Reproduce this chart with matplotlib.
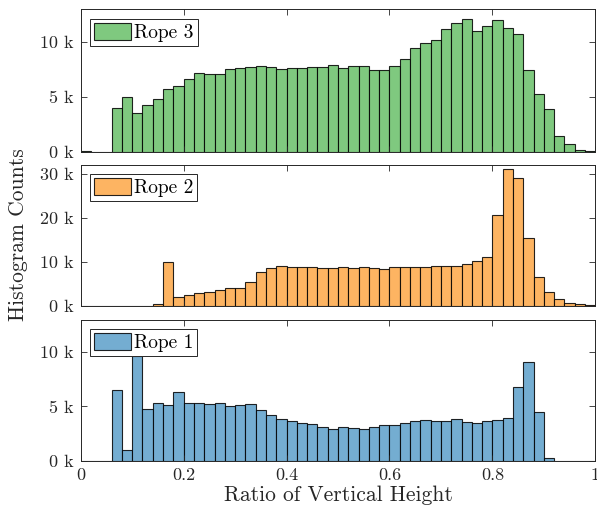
import matplotlib
matplotlib.use("Agg")
import matplotlib.pyplot as plt
import numpy as np

plt.rcParams["font.family"] = "serif"
plt.rcParams["font.serif"] = ["cmr10", "DejaVu Serif"]
plt.rcParams["axes.formatter.use_mathtext"] = True

# bin edges 0..1, width 0.02
bin_edges = [round(i * 0.02, 2) for i in range(51)]

rope3 = [100, 0, 0, 3950, 4950, 3580, 4220, 4770, 5720, 5960,
         6600, 7220, 7120, 7120, 7550, 7650, 7700, 7830, 7740, 7550,
         7620, 7650, 7700, 7770, 7920, 7650, 7800, 7800, 7460, 7490,
         7830, 8500, 9450, 9880, 10210, 11160, 11740, 12110, 11040, 11500,
         12050, 11250, 10770, 7460, 5260, 3880, 1410, 730, 180, 40]

rope2 = [0, 0, 0, 0, 0, 0, 0, 300, 9960, 1890,
         2490, 2870, 3020, 3620, 3920, 4080, 5280, 7700, 8600, 8900,
         8750, 8750, 8750, 8600, 8530, 8680, 8450, 8750, 8450, 8300,
         8680, 8680, 8750, 8750, 8900, 8900, 9060, 9360, 10190, 11090,
         20680, 31020, 28980, 15470, 6490, 3170, 1430, 600, 300, 150]

rope1 = [0, 0, 0, 6540, 980, 9650, 4800, 5350, 5170, 6360,
         5290, 5350, 5230, 5350, 5080, 5140, 5200, 4710, 4250, 3880,
         3700, 3490, 3430, 3150, 2970, 3150, 3060, 2970, 3150, 3300,
         3270, 3460, 3640, 3760, 3700, 3700, 3850, 3610, 3520, 3670,
         3790, 3980, 6790, 9110, 4500, 250, 0, 0, 0, 0]

panels = [
    ("Rope 3", rope3, "#7fc97f", 13000, [0, 5000, 10000], ["0 k", "5 k", "10 k"]),
    ("Rope 2", rope2, "#fdb462", 32000, [0, 10000, 20000, 30000], ["0 k", "10 k", "20 k", "30 k"]),
    ("Rope 1", rope1, "#74add1", 13000, [0, 5000, 10000], ["0 k", "5 k", "10 k"]),
]

x_ticks = [0, 0.2, 0.4, 0.6, 0.8, 1]
x_labels = ["0", "0.2", "0.4", "0.6", "0.8", "1"]

fig = plt.figure(figsize=(5.97, 5.15), dpi=100)
axes_rects = [
    [0.1352, 0.7054, 0.862, 0.2765],
    [0.1352, 0.4064, 0.862, 0.2738],
    [0.1352, 0.1054, 0.862, 0.2738],
]
frame_col = "#262626"

for rect, (name, counts, color, ymax, yt, ytl) in zip(axes_rects, panels):
    ax = fig.add_axes(rect)
    edges = np.array(bin_edges)
    ax.bar(edges[:-1], counts, width=np.diff(edges), align="edge",
           color=color, edgecolor=(0, 0, 0, 0.85), linewidth=0.8, label=name)
    ax.set_xlim(0, 1)
    ax.set_ylim(0, ymax)
    ax.set_yticks(yt)
    ax.set_yticklabels(ytl)
    ax.set_xticks(x_ticks)
    if name == "Rope 1":
        ax.set_xticklabels(x_labels)
        ax.set_xlabel("Ratio of Vertical Height", fontsize=15.5, color=frame_col, labelpad=2)
    else:
        ax.set_xticklabels([])
    ax.tick_params(direction="in", top=True, right=True, length=4, width=0.6,
                   color=frame_col, labelsize=13, labelcolor=frame_col, pad=5)
    for s in ax.spines.values():
        s.set_color(frame_col)
        s.set_linewidth(0.7)
    leg = ax.legend(loc="upper left", fontsize=14, frameon=True, fancybox=False,
                    handlelength=1.9, handleheight=0.95, handletextpad=0.15,
                    borderpad=0.2, borderaxespad=0.5)
    leg.get_frame().set_edgecolor(frame_col)
    leg.get_frame().set_linewidth(0.7)
    leg.get_frame().set_alpha(1)

fig.text(0.03, 0.544, "Histogram Counts", rotation=90, fontsize=15.5,
         color=frame_col, ha="center", va="center")

fig.savefig("out.png", dpi=100)
